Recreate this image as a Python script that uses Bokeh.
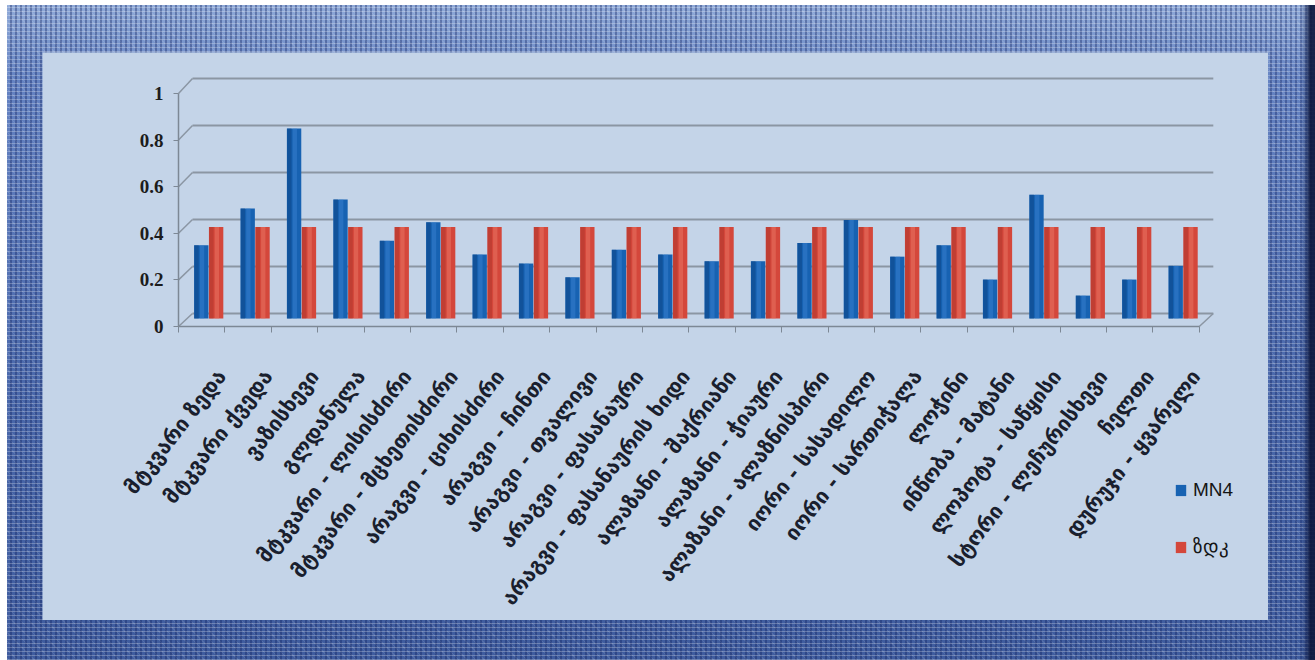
from bokeh.plotting import figure
from bokeh.models import Range1d, FixedTicker, LinearAxis, Legend, LegendItem
from bokeh.embed import file_html
from bokeh.resources import INLINE

# Monitoring stations (rivers of eastern Georgia)
stations = [
    "მტკვარი ზედა",
    "მტკვარი ქვედა",
    "ვაზისხევი",
    "გლდანულა",
    "მტკვარი - ლისისძირი",
    "მტკვარი - მცხეთისძირი",
    "არაგვი - ციხისძირი",
    "არაგვი - ჩინთი",
    "არაგვი - თვალივი",
    "არაგვი - ფასანაური",
    "არაგვი - ფასანაურის ხიდი",
    "ალაზანი - შაქრიანი",
    "ალაზანი - ჭიაური",
    "ალაზანი - ალაზნისპირი",
    "იორი - სასადილო",
    "იორი - სართიჭალა",
    "ლოჭინი",
    "ინწობა - მატანი",
    "ლოპოტა - საწყისი",
    "სტორი - ლეჩურისხევი",
    "ჩელთი",
    "დურუჯი - ყვარელი",
]
mn4 = [0.32, 0.48, 0.83, 0.52, 0.34, 0.42, 0.28, 0.24, 0.18, 0.30, 0.28,
       0.25, 0.25, 0.33, 0.43, 0.27, 0.32, 0.17, 0.54, 0.10, 0.17, 0.23]
zdk = [0.4] * 22
y_ticks = [0, 0.2, 0.4, 0.6, 0.8, 1]
y_tick_labels = ["0", "0.2", "0.4", "0.6", "0.8", "1"]
series_names = ["MN4", "ზდკ"]

PANEL = "#c4d4e8"
BLUE = "#1762b2"
BLUE_DARK = "#0c4686"
BLUE_LIGHT = "#3d86d2"
RED = "#d4473b"
RED_DARK = "#a9322a"
RED_LIGHT = "#ea7766"
GRID = "#8b96a3"

# page size, frame border widths (top, right, bottom, left) and inner panel size
W, H = 1315, 660
BT, BR, BB, BL = 52, 47, 40, 42
CW, CH = W - BL - BR, H - BT - BB
N = len(stations)
PX_X = 46.4  # pixels per category

# the canvas covers the whole bordered box and is drawn from the panel's
# top-left corner; the plot frame fills it, axes are pinned inside
AX_X, AX_Y = 136, 274  # panel pixels of the front axes' origin


def plane_x(dx):
    x0 = AX_X + dx
    return Range1d((0 - x0) / PX_X, (W - x0) / PX_X)


def plane_y(zero_px, scale):
    return Range1d((zero_px - H) / scale, zero_px / scale)


# front plane (axes), middle plane (bars), back wall (gridlines)
FRONT_Y0, FRONT_S = AX_Y, 233.0
MID_DX, MID_Y0, MID_S = 7, 266, 229.0
BACK_DX, BACK_Y0, BACK_S = 14, 261, 235.0

p = figure(width=CW, height=CH,
           x_range=plane_x(0), y_range=plane_y(FRONT_Y0, FRONT_S),
           x_axis_type=None, y_axis_type=None,
           output_backend="svg", toolbar_location=None,
           min_border=0,
           background_fill_color=PANEL, border_fill_color=PANEL,
           outline_line_color=None)
p.extra_x_ranges = {"mid": plane_x(MID_DX), "back": plane_x(BACK_DX)}
p.extra_y_ranges = {"mid": plane_y(MID_Y0, MID_S), "back": plane_y(BACK_Y0, BACK_S)}

# back wall gridlines
p.segment(x0=0, x1=N, y0=y_ticks, y1=y_ticks, line_color=GRID, line_width=2,
          x_range_name="back", y_range_name="back")


# side wall / floor edges joining the front plane to the back wall
def back_to_front_y(v):
    return (FRONT_Y0 - (BACK_Y0 - BACK_S * v)) / FRONT_S


side_dx = BACK_DX / PX_X
p.segment(x0=[0] * len(y_ticks), x1=[side_dx] * len(y_ticks),
          y0=y_ticks, y1=[back_to_front_y(v) for v in y_ticks],
          line_color=GRID, line_width=1.5)
p.segment(x0=[N], x1=[N + side_dx], y0=[0], y1=[back_to_front_y(0)],
          line_color=GRID, line_width=1.5)

# bars
centers = [i + 0.5 for i in range(N)]
bw = 0.31
blue_x = [c - 0.16 for c in centers]
red_x = [c + 0.16 for c in centers]
kw = dict(x_range_name="mid", y_range_name="mid", line_color=None)
r_blue = p.vbar(x=blue_x, top=mn4, bottom=0, width=bw, fill_color=BLUE, **kw)
p.vbar(x=[x - bw * 0.33 for x in blue_x], top=mn4, bottom=0, width=bw * 0.3,
       fill_color=BLUE_DARK, fill_alpha=0.55, **kw)
p.vbar(x=[x + bw * 0.05 for x in blue_x], top=mn4, bottom=0, width=bw * 0.3,
       fill_color=BLUE_LIGHT, fill_alpha=0.45, **kw)
r_red = p.vbar(x=red_x, top=zdk, bottom=0, width=bw, fill_color=RED, **kw)
p.vbar(x=[x - bw * 0.33 for x in red_x], top=zdk, bottom=0, width=bw * 0.3,
       fill_color=RED_DARK, fill_alpha=0.45, **kw)
p.vbar(x=[x + bw * 0.05 for x in red_x], top=zdk, bottom=0, width=bw * 0.3,
       fill_color=RED_LIGHT, fill_alpha=0.5, **kw)

# value axis, pinned at the front-left corner
yax = LinearAxis(ticker=FixedTicker(ticks=y_ticks), bounds=(0, 1), fixed_location=0)
yax.major_label_overrides = {t: s for t, s in zip(y_ticks, y_tick_labels)}
yax.axis_line_color = "#7d8895"
yax.axis_line_width = 1.5
yax.major_tick_line_color = "#7d8895"
yax.major_tick_out = 5
yax.major_tick_in = 0
yax.minor_tick_line_color = None
yax.major_label_text_font = "Liberation Serif"
yax.major_label_text_font_style = "bold"
yax.major_label_text_font_size = "19px"
yax.major_label_text_color = "#1c1c1c"
yax.major_label_standoff = 10
p.add_layout(yax, "left")

# category axis along the front floor edge; names sit right of each centre
label_shift = 20 / PX_X
label_pos = [c + label_shift for c in centers]
boundaries = list(range(N + 1))
xax = LinearAxis(ticker=FixedTicker(ticks=label_pos, minor_ticks=boundaries),
                 bounds=(0, N), fixed_location=0)
xax.major_label_overrides = {c: s for c, s in zip(label_pos, stations)}
xax.axis_line_color = "#7d8895"
xax.axis_line_width = 1.5
xax.major_tick_line_color = None
xax.minor_tick_line_color = "#7d8895"
xax.minor_tick_out = 6
xax.minor_tick_in = 0
xax.major_label_orientation = 0.91
xax.major_label_text_font = "DejaVu Sans"
xax.major_label_text_font_style = "bold"
xax.major_label_text_font_size = "21px"
xax.major_label_text_color = "#1a1f2e"
xax.major_label_standoff = 40
p.add_layout(xax, "below")

# legend at the lower right of the panel
legend = Legend(items=[LegendItem(label=series_names[0], renderers=[r_blue]),
                       LegendItem(label=series_names[1], renderers=[r_red])],
                location=(1132, H - 506), orientation="vertical",
                padding=0, margin=0, spacing=34,
                glyph_width=13, glyph_height=14, label_height=16,
                label_text_font="Liberation Sans", label_text_font_size="19px",
                label_text_color="#151515", label_standoff=6,
                border_line_color=None, background_fill_alpha=0)
p.add_layout(legend, "center")

# woven blue frame round the panel
p.styles = {
    "box-sizing": "content-box",
    "border-style": "solid",
    "border-color": "transparent",
    "border-width": f"{BT}px {BR}px {BB}px {BL}px",
    "background-origin": "border-box",
    "background-clip": "border-box",
    "background-image": (
        "linear-gradient(90deg, #ffffff 0 7px, transparent 7px),"
        "linear-gradient(180deg, #ffffff 0 5px, transparent 5px),"
        "linear-gradient(270deg, rgba(12,22,60,0.9) 0 5px, rgba(12,22,60,0.35) 9px, transparent 14px),"
        "repeating-linear-gradient(0deg, rgba(255,255,255,0.25) 0 1px, transparent 1px 4px),"
        "repeating-linear-gradient(90deg, rgba(12,28,90,0.35) 0 2px, transparent 2px 5px),"
        "repeating-linear-gradient(45deg, rgba(255,255,255,0.10) 0 1px, transparent 1px 6px),"
        "linear-gradient(180deg, #92acd9 0%, #6583c2 12%, #4a68aa 60%, #3f5c9e 100%)"
    ),
}

with open("out.html", "w") as f:
    f.write(file_html(p, INLINE))
